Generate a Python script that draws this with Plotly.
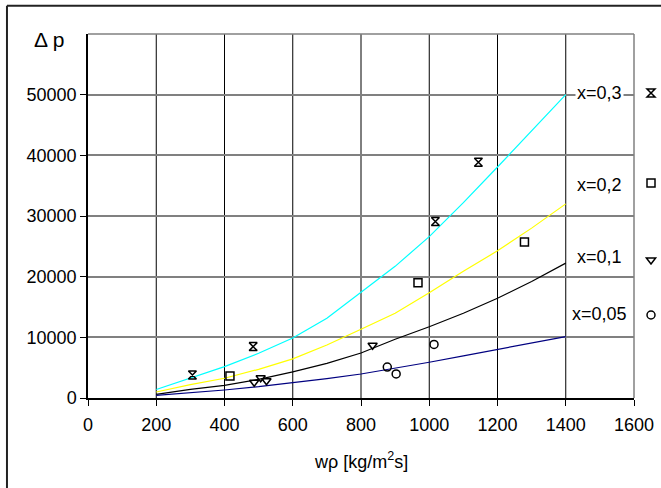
import plotly.graph_objects as go

# ---- data ----
x_line = [200, 300, 400, 500, 600, 700, 800, 900, 1000, 1100, 1200, 1300, 1400]
dp_x03 = [1400, 3250, 5170, 7370, 9900, 13150, 17400, 21700, 26600, 32200, 38070, 43950, 50000]
dp_x02 = [990, 2200, 3250, 4730, 6450, 8740, 11330, 13970, 17350, 20900, 24260, 28000, 32000]
dp_x01 = [600, 1430, 2090, 3080, 4300, 5720, 7420, 9680, 11750, 13970, 16450, 19190, 22230]
dp_x005 = [420, 820, 1320, 1860, 2470, 3200, 3960, 4900, 5890, 6950, 8030, 9050, 10120]

meas_x03_x = [306, 484, 1018, 1144]
meas_x03_y = [3800, 8470, 29100, 38850]
meas_x02_x = [416, 967, 1279]
meas_x02_y = [3630, 18980, 25700]
meas_x01_x = [487, 506, 523, 834]
meas_x01_y = [2590, 3350, 2850, 8700]
meas_x005_x = [877, 903, 1014]
meas_x005_y = [5100, 3960, 8830]

series_labels = ["x=0,3", "x=0,2", "x=0,1", "x=0,05"]
label_y = [50300, 35030, 23320, 13810]
x_ticks = [0, 200, 400, 600, 800, 1000, 1200, 1400, 1600]
y_ticks = [0, 10000, 20000, 30000, 40000, 50000]

FONT = "Liberation Sans, Arial, sans-serif"
fig = go.Figure()

line_colors = ["#00FFFF", "#FFFF00", "#000000", "#000080"]
for ys, c in zip([dp_x03, dp_x02, dp_x01, dp_x005], line_colors):
    fig.add_trace(go.Scatter(x=x_line, y=ys, mode="lines",
                             line=dict(color=c, width=1.2), showlegend=False))

symbols = ["hourglass-open", "square-open", "triangle-down-open", "circle-open"]
meas = [(meas_x03_x, meas_x03_y), (meas_x02_x, meas_x02_y),
        (meas_x01_x, meas_x01_y), (meas_x005_x, meas_x005_y)]
legend_ids = ["legend", "legend2", "legend3", "legend4"]
for (mx, my), sym, lg in zip(meas, symbols, legend_ids):
    fig.add_trace(go.Scatter(x=mx, y=my, mode="markers", name=" ",
                             marker=dict(symbol=sym, size=8, color="black",
                                         line=dict(color="black", width=1.5)),
                             legend=lg, showlegend=True))

# series labels between 1400 and 1600
for txt, ly in zip(series_labels, label_y):
    fig.add_annotation(x=1500, y=ly, text=txt, showarrow=False,
                       font=dict(family=FONT, size=18, color="black"),
                       bgcolor="white", xanchor="center", yanchor="middle")

# axis titles
fig.add_annotation(xref="paper", yref="paper", x=-0.072, y=0.984, text="Δ p",
                   showarrow=False, font=dict(family=FONT, size=21, color="black"),
                   xanchor="center", yanchor="middle")
fig.add_annotation(xref="paper", yref="paper", x=0.5, y=-0.172,
                   text="wρ [kg/m<sup>2</sup>s]", showarrow=False,
                   font=dict(family=FONT, size=18, color="black"),
                   xanchor="center", yanchor="middle")

# plot frame top/right (gray) and outer chart frame
fig.add_shape(type="line", xref="paper", yref="paper", x0=0, x1=1, y0=1, y1=1,
              line=dict(color="#808080", width=1.5))
fig.add_shape(type="line", xref="paper", yref="paper", x0=1, x1=1, y0=0, y1=1,
              line=dict(color="#808080", width=1.5))
fig.add_shape(type="line", xref="paper", yref="paper", x0=-0.1484, x1=-0.1484,
              y0=-0.3, y1=1.0775, line=dict(color="#222222", width=2))
fig.add_shape(type="line", xref="paper", yref="paper", x0=-0.1484, x1=1.1,
              y0=1.0775, y1=1.0775, line=dict(color="#222222", width=2))

# vertical gridlines (dark) as shapes, horizontal gridlines gray via axis
for xv in x_ticks[1:-1]:
    fig.add_shape(type="line", xref="x", yref="paper", x0=xv, x1=xv, y0=0, y1=1,
                  line=dict(color="#000000", width=1), layer="below")

leg_common = dict(bgcolor="rgba(0,0,0,0)", borderwidth=0, itemwidth=30,
                  xanchor="left", yanchor="middle",
                  font=dict(family=FONT, size=10))
legend_px_y = [93, 183, 260, 315]
lay_leg = {}
for lg, py in zip(legend_ids, legend_px_y):
    lay_leg[lg] = dict(leg_common, x=(651 - 20 - 88) / 546, y=(398 - py) / 364)

fig.update_layout(
    width=661, height=488,
    margin=dict(l=88, r=27, t=34, b=90, autoexpand=False),
    paper_bgcolor="white", plot_bgcolor="white",
    font=dict(family=FONT, size=18, color="black"),
    xaxis=dict(range=[0, 1600], tickvals=x_ticks, showgrid=False, zeroline=False,
               showline=True, linecolor="black", linewidth=1.5,
               ticks="outside", ticklen=6, tickcolor="black",
               ticklabelstandoff=4,
               tickfont=dict(family=FONT, size=18, color="black")),
    yaxis=dict(range=[0, 60000], tickvals=y_ticks, showgrid=True,
               gridcolor="#808080", gridwidth=1.5, zeroline=False,
               showline=True, linecolor="black", linewidth=1.5,
               ticks="outside", ticklen=6, tickcolor="black",
               tickformat="d",
               tickfont=dict(family=FONT, size=18, color="black")),
    **lay_leg,
)

fig.write_html("out.html")
